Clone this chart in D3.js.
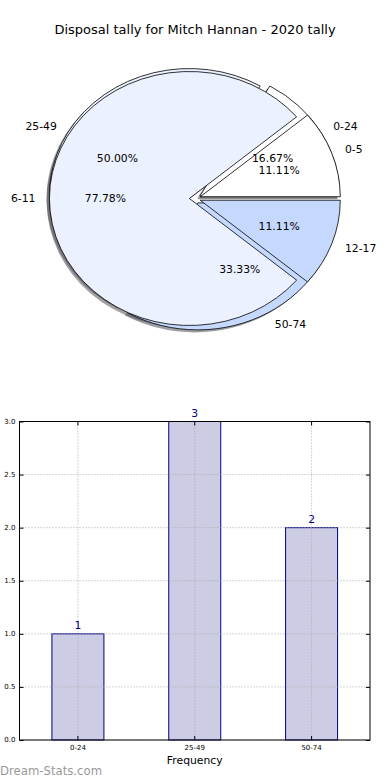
<!DOCTYPE html>
<html>
<head>
<meta charset="utf-8">
<script src="https://cdn.jsdelivr.net/npm/d3@7"></script>
<style>
  body { margin: 0; background: #fff; }
  text { font-family: "DejaVu Sans", sans-serif; }
</style>
</head>
<body>
<div id="chart"></div>
<script>
// data
var outerLabels = ["0-24", "25-49", "50-74"];
var outerValues = [1, 3, 2];
var innerLabels = ["0-5", "6-11", "12-17"];
var innerValues = [1, 7, 1];
var barLabels = ["0-24", "25-49", "50-74"];
var barValues = [1, 3, 2];
var yTicks = [0, 0.5, 1, 1.5, 2, 2.5, 3];
var title = "Disposal tally for Mitch Hannan - 2020 tally";

var pieColors = ["#ffffff", "#ebf1fe", "#c5d8fd"];

var svg = d3.select("#chart")
    .append("svg")
    .attr("width", 390)
    .attr("height", 780);

svg.append("rect").attr("width", 390).attr("height", 780).attr("fill", "#fff");

svg.append("text")
    .attr("x", 195)
    .attr("y", 34)
    .attr("text-anchor", "middle")
    .style("font-size", "13px")
    .text(title);

// pie geometry (elliptical, like an unequal-aspect matplotlib pie)
var cx = 195, cy = 198.5, rx = 140, ry = 127;
var explode = 0.04;

// counterclockwise from 3 o'clock
var pie = d3.pie().sort(null).startAngle(Math.PI / 2).endAngle(Math.PI / 2 - 2 * Math.PI);
var arc = d3.arc().innerRadius(0).outerRadius(1);

function wedges(labels, values) {
    var total = d3.sum(values);
    return pie(values).map(function (d, i) {
        var mid = (d.startAngle + d.endAngle) / 2;
        var ox = cx + explode * rx * Math.sin(mid);
        var oy = cy - explode * ry * Math.cos(mid);
        return {arc: d, mid: mid, ox: ox, oy: oy, label: labels[i],
            pct: (100 * values[i] / total).toFixed(2) + "%", color: pieColors[i % pieColors.length]};
    });
}

var pies = [wedges(outerLabels, outerValues), wedges(innerLabels, innerValues)];

// shadows first, below every wedge
var gShadow = svg.append("g");
pies.forEach(function (ws) {
    gShadow.selectAll(null)
        .data(ws)
        .enter()
        .append("path")
        .attr("d", function (d) { return arc(d.arc); })
        .attr("transform", function (d) {
            return "translate(" + (d.ox - 0.02 * rx) + "," + (d.oy + 0.02 * ry) + ") scale(" + rx + "," + ry + ")";
        })
        .attr("fill", function (d) {
            var c = d3.rgb(d.color);
            return d3.rgb(c.r * 0.3, c.g * 0.3, c.b * 0.3);
        })
        .attr("opacity", 0.5);
});

var gPie = svg.append("g");
pies.forEach(function (ws) {
    gPie.append("g").selectAll(null)
        .data(ws)
        .enter()
        .append("path")
        .attr("d", function (d) { return arc(d.arc); })
        .attr("transform", function (d) {
            return "translate(" + d.ox + "," + d.oy + ") scale(" + rx + "," + ry + ")";
        })
        .attr("fill", function (d) { return d.color; })
        .attr("stroke", "#000")
        .attr("stroke-width", 0.8)
        .attr("vector-effect", "non-scaling-stroke");
});

// labels
pies.forEach(function (ws) {
    ws.forEach(function (d) {
        var s = Math.sin(d.mid), c = Math.cos(d.mid);
        svg.append("text")
            .attr("x", d.ox + 1.1 * rx * s)
            .attr("y", d.oy - 1.1 * ry * c)
            .attr("dy", "0.35em")
            .attr("text-anchor", s > 0 ? "start" : "end")
            .style("font-size", "10.8px")
            .text(d.label);
        svg.append("text")
            .attr("x", d.ox + 0.6 * rx * s)
            .attr("y", d.oy - 0.6 * ry * c)
            .attr("dy", "0.35em")
            .attr("text-anchor", "middle")
            .style("font-size", "10.8px")
            .text(d.pct);
    });
});

// bar chart
var plotLeft = 19.5, plotRight = 370, plotTop = 421.5, plotBottom = 740;

var x = d3.scaleBand()
    .domain(barLabels)
    .range([plotLeft, plotRight])
    .paddingInner(0.555)
    .paddingOuter(0.2775);

var y = d3.scaleLinear()
    .domain([0, 3])
    .range([plotBottom, plotTop]);

var grid = svg.append("g")
    .attr("stroke", "#aaa")
    .attr("stroke-width", 1)
    .attr("stroke-dasharray", "1,2");
grid.selectAll(null)
    .data(yTicks)
    .enter()
    .append("line")
    .attr("x1", plotLeft).attr("x2", plotRight)
    .attr("y1", function (d) { return y(d); })
    .attr("y2", function (d) { return y(d); });

svg.append("g")
    .selectAll("rect")
    .data(barValues)
    .enter()
    .append("rect")
    .attr("x", function (d, i) { return x(barLabels[i]); })
    .attr("y", function (d) { return y(d); })
    .attr("width", x.bandwidth())
    .attr("height", function (d) { return plotBottom - y(d); })
    .attr("fill", "#cccce4")
    .attr("stroke", "#000080")
    .attr("stroke-width", 1);

// vertical grid drawn over the bars
grid.raise();
grid.selectAll(null)
    .data(barLabels)
    .enter()
    .append("line")
    .attr("x1", function (d) { return x(d) + x.bandwidth() / 2; })
    .attr("x2", function (d) { return x(d) + x.bandwidth() / 2; })
    .attr("y1", plotTop).attr("y2", plotBottom);

svg.append("g")
    .selectAll("text")
    .data(barValues)
    .enter()
    .append("text")
    .attr("x", function (d, i) { return x(barLabels[i]) + x.bandwidth() / 2; })
    .attr("y", function (d) { return y(d) - 5; })
    .attr("text-anchor", "middle")
    .attr("fill", "#000080")
    .style("font-size", "10.8px")
    .text(function (d) { return d; });

// axes: inward ticks on all sides, like matplotlib classic
var yAxisL = svg.append("g")
    .attr("transform", "translate(" + plotLeft + ",0)")
    .call(d3.axisRight(y).tickValues(yTicks).tickSize(4).tickFormat(""));
var yAxisR = svg.append("g")
    .attr("transform", "translate(" + plotRight + ",0)")
    .call(d3.axisLeft(y).tickValues(yTicks).tickSize(4).tickFormat(""));
var xAxisB = svg.append("g")
    .attr("transform", "translate(0," + plotBottom + ")")
    .call(d3.axisTop(x).tickSize(4).tickFormat(""));
var xAxisT = svg.append("g")
    .attr("transform", "translate(0," + plotTop + ")")
    .call(d3.axisBottom(x).tickSize(4).tickFormat(""));
[yAxisL, yAxisR, xAxisB, xAxisT].forEach(function (a) {
    a.select(".domain").remove();
});

svg.append("rect")
    .attr("x", plotLeft).attr("y", plotTop)
    .attr("width", plotRight - plotLeft).attr("height", plotBottom - plotTop)
    .attr("fill", "none")
    .attr("stroke", "#000")
    .attr("stroke-width", 1);

svg.append("g")
    .selectAll("text")
    .data(yTicks)
    .enter()
    .append("text")
    .attr("x", plotLeft - 4)
    .attr("y", function (d) { return y(d); })
    .attr("dy", "0.35em")
    .attr("text-anchor", "end")
    .style("font-size", "7px")
    .text(function (d) { return d.toFixed(1); });

svg.append("g")
    .selectAll("text")
    .data(barLabels)
    .enter()
    .append("text")
    .attr("x", function (d) { return x(d) + x.bandwidth() / 2; })
    .attr("y", plotBottom + 8)
    .attr("dy", "0.35em")
    .attr("text-anchor", "middle")
    .style("font-size", "7px")
    .text(function (d) { return d; });

svg.append("text")
    .attr("x", (plotLeft + plotRight) / 2)
    .attr("y", 764)
    .attr("text-anchor", "middle")
    .style("font-size", "10.8px")
    .text("Frequency");

svg.append("text")
    .attr("x", 0)
    .attr("y", 775)
    .attr("fill", "#999")
    .style("font-size", "11.7px")
    .text("Dream-Stats.com");
</script>
</body>
</html>
